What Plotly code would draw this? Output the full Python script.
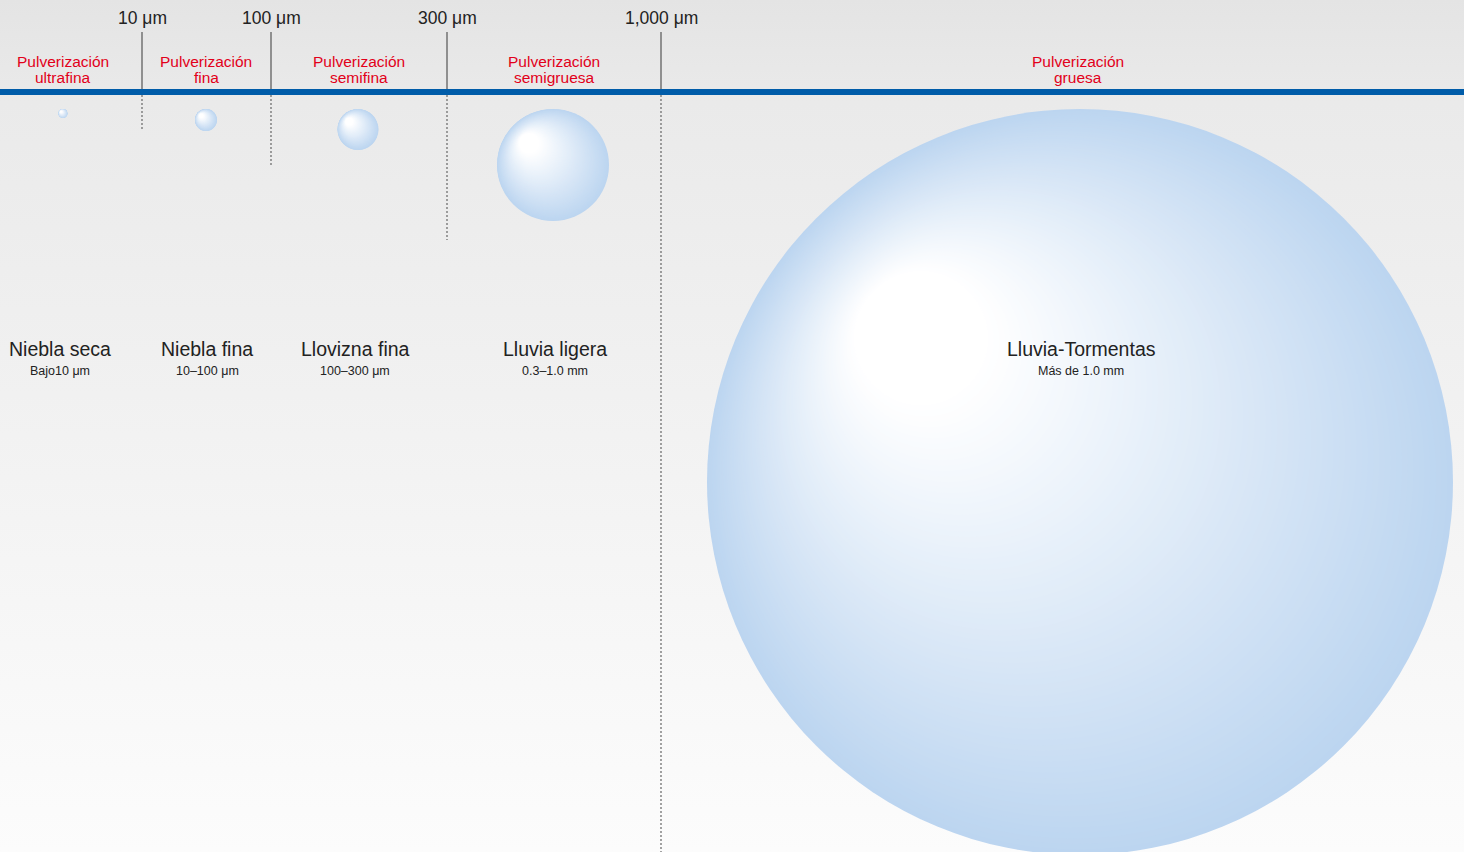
import plotly.graph_objects as go

# ---------------- data ----------------
boundary_labels = ["10 μm", "100 μm", "300 μm", "1,000 μm"]
boundary_x = [142, 271, 447, 661]
boundary_dash_end = [131, 167, 240, 852]

spray_class_line1 = ["Pulverización"] * 5
spray_class_line2 = ["ultrafina", "fina", "semifina", "semigruesa", "gruesa"]
spray_class_x = [63, 206, 359, 554, 1078]

category_names = ["Niebla seca", "Niebla fina", "Llovizna fina", "Lluvia ligera", "Lluvia-Tormentas"]
category_ranges = ["Bajo10 μm", "10–100 μm", "100–300 μm", "0.3–1.0 mm", "Más de 1.0 mm"]
category_x = [60, 207, 355, 555, 1081]

bubble_x = [63, 206, 358, 553, 1080]
bubble_diameter = [9, 22, 41, 112, 746]

# ---------------- style ----------------
W, H = 1464, 852
FONT = "Liberation Sans, Arial, sans-serif"
BLUE_LINE = "#005ca9"
RED = "#e2001a"
EDGE_RGB = (188, 213, 240)
BUBBLE_TOP = 109
LINE_Y = 92
HL_DX, HL_DY = -0.52, -0.47   # focal point offset relative to radius
WHITE_T = 0.82
N_LAYERS = 100

fig = go.Figure()

# background vertical gradient
fig.add_trace(go.Scatter(
    x=[0, W, W, 0, 0], y=[0, 0, H, H, 0], mode="lines", fill="toself",
    line=dict(width=0), hoverinfo="skip", showlegend=False,
    fillgradient=dict(type="vertical", start=0, stop=H,
                      colorscale=[[0, "#e4e4e4"], [0.12, "#eaeaea"], [1, "#fcfcfc"]]),
))

# bubbles: stacked circles forming an off-centre (focal) radial gradient
centers_y = [BUBBLE_TOP + d / 2 for d in bubble_diameter]
for k in range(N_LAYERS):
    t = k / N_LAYERS
    f = min(t / WHITE_T, 1.0)
    col = "rgb({},{},{})".format(*[round(c + (255 - c) * f) for c in EDGE_RGB])
    xs, ys, ss = [], [], []
    for cx, cy, d in zip(bubble_x, centers_y, bubble_diameter):
        r = d / 2
        xs.append(cx + t * HL_DX * r)
        ys.append(cy + t * HL_DY * r)
        ss.append(d * (1 - t))
    fig.add_trace(go.Scatter(
        x=xs, y=ys, mode="markers", hoverinfo="skip", showlegend=False, cliponaxis=False,
        marker=dict(size=ss, color=col, line=dict(width=0), opacity=1),
    ))

shapes = []
shapes.append(dict(type="line", xref="x", yref="y", x0=0, x1=W, y0=LINE_Y, y1=LINE_Y,
                   line=dict(color=BLUE_LINE, width=6), layer="above"))
for bx, yend in zip(boundary_x, boundary_dash_end):
    shapes.append(dict(type="line", xref="x", yref="y", x0=bx, x1=bx, y0=32, y1=LINE_Y - 3,
                       line=dict(color="#555555", width=1.2)))
    shapes.append(dict(type="line", xref="x", yref="y", x0=bx, x1=bx, y0=LINE_Y + 3, y1=yend,
                       line=dict(color="#666666", width=1.2, dash="2px,2px")))

annotations = []
for bx, lab in zip(boundary_x, boundary_labels):
    annotations.append(dict(x=bx, y=18, xref="x", yref="y", text=lab, showarrow=False,
                            font=dict(family=FONT, size=17.5, color="#222222"),
                            xanchor="center", yanchor="middle"))
for sx, l1, l2 in zip(spray_class_x, spray_class_line1, spray_class_line2):
    annotations.append(dict(x=sx, y=61, xref="x", yref="y", text=l1, showarrow=False,
                            font=dict(family=FONT, size=15.5, color=RED),
                            xanchor="center", yanchor="middle"))
    annotations.append(dict(x=sx, y=77, xref="x", yref="y", text=l2, showarrow=False,
                            font=dict(family=FONT, size=15.5, color=RED),
                            xanchor="center", yanchor="middle"))
for cx, name, rng in zip(category_x, category_names, category_ranges):
    annotations.append(dict(x=cx, y=349, xref="x", yref="y", text=name, showarrow=False,
                            font=dict(family=FONT, size=19.5, color="#222222"),
                            xanchor="center", yanchor="middle"))
    annotations.append(dict(x=cx, y=371, xref="x", yref="y", text=rng, showarrow=False,
                            font=dict(family=FONT, size=12.5, color="#222222"),
                            xanchor="center", yanchor="middle"))

fig.update_layout(
    width=W, height=H, margin=dict(l=0, r=0, t=0, b=0),
    paper_bgcolor="#f2f2f2", plot_bgcolor="#f2f2f2",
    xaxis=dict(range=[0, W], visible=False, fixedrange=True),
    yaxis=dict(range=[H, 0], visible=False, fixedrange=True),
    shapes=shapes, annotations=annotations, showlegend=False,
)

fig.write_html("out.html", config={"displayModeBar": False},
               post_script="document.body.style.margin='0';document.body.style.overflow='hidden';")
